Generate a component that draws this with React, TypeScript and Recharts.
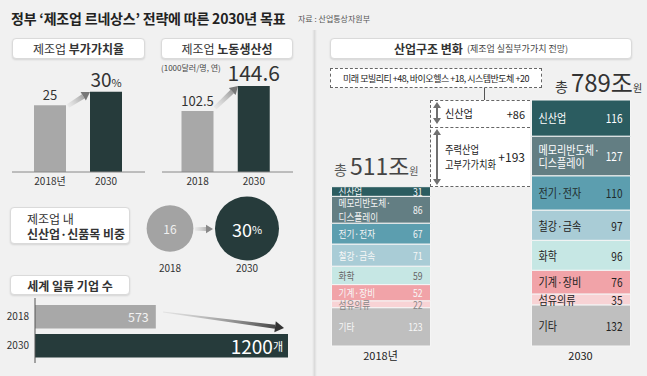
import React from "react";
import { Bar, BarChart, Cell, LabelList, Scatter, ScatterChart, XAxis, YAxis, ZAxis } from "recharts";

const FONT = '"Noto Sans CJK KR", "Noto Sans", sans-serif';
const DARK = "#263b3b";
const GRAY = "#a8a8a8";

// 제조업 부가가치율 (%)
const ratioYears = ["2018년", "2030"];
const ratioValues = [25, 30];
// 제조업 노동생산성 (1000달러/명, 연)
const prodYears = ["2018", "2030"];
const prodValues = [102.5, 144.6];
// 제조업 내 신산업·신품목 비중 (%)
const shareYears = ["2018", "2030"];
const shareValues = [16, 30];
// 세계 일류 기업 수 (개)
const firmYears = ["2018", "2030"];
const firmValues = [573, 1200];
// 산업구조 변화 (조원)
const structYears = ["2018년", "2030"];
const segmentLabels = [
  ["신산업"],
  ["메모리반도체·", "디스플레이"],
  ["전기·전자"],
  ["철강·금속"],
  ["화학"],
  ["기계·장비"],
  ["섬유의류"],
  ["기타"],
];
const values2018 = [31, 86, 67, 71, 59, 52, 22, 123];
const values2030 = [116, 127, 110, 97, 96, 76, 35, 132];

const segColors = ["#2b5c60", "#637e83", "#5c9eaf", "#a9ccd6", "#c6e7e4", "#f1a3a8", "#f8d3d5", "#bfbfbf"];
const text2018 = ["#f4f4f4", "#f4f4f4", "#f4f4f4", "#f7f7f7", "#666", "#f7f7f7", "#888", "#f7f7f7"];
const text2030 = ["#fff", "#fff", "#1f2b2b", "#222", "#222", "#222", "#222", "#222"];

const ratioData = ratioYears.map((year, i) => ({ year, value: ratioValues[i] }));
const prodData = prodYears.map((year, i) => ({ year, value: prodValues[i] }));
const shareData = shareYears.map((year, i) => ({ year, y: 1, value: shareValues[i] }));
const firmData = firmYears.map((year, i) => ({ year, value: firmValues[i] }));

const structData = [
  Object.fromEntries([["year", structYears[0]], ...values2018.map((v, s) => [`s${s}`, v])]),
  { year: "gap" },
  Object.fromEntries([["year", structYears[1]], ...values2030.map((v, s) => [`s${s}`, v])]),
];

const boxStyle: React.CSSProperties = {
  position: "absolute",
  background: "#fff",
  border: "1px solid #dadada",
  borderRadius: 4,
  boxShadow: "0 1px 2px rgba(0,0,0,0.12)",
  boxSizing: "border-box",
  display: "flex",
  alignItems: "center",
  justifyContent: "center",
  fontSize: 12,
  color: "#333",
  whiteSpace: "nowrap",
};

const narrow = (sx: number): React.CSSProperties => ({
  display: "inline-block",
  transform: `scaleX(${sx})`,
  transformOrigin: "left center",
});

function Arrow({ id, x1, y1, x2, y2, w, head, c1, c2, taper = 0.4 }: any) {
  const dx = x2 - x1;
  const dy = y2 - y1;
  const len = Math.hypot(dx, dy);
  const ux = dx / len;
  const uy = dy / len;
  const bx = x2 - ux * head;
  const by = y2 - uy * head;
  const px = -uy;
  const py = ux;
  const s = (w * taper) / 2;
  const e = w / 2;
  const hw = head * 0.62;
  return (
    <g>
      <defs>
        <linearGradient id={id} gradientUnits="userSpaceOnUse" x1={x1} y1={y1} x2={x2} y2={y2}>
          <stop offset="0" stopColor={c1} stopOpacity={0.15} />
          <stop offset="1" stopColor={c2} />
        </linearGradient>
      </defs>
      <polygon
        points={`${x1 + px * s},${y1 + py * s} ${bx + px * e},${by + py * e} ${bx - px * e},${by - py * e} ${x1 - px * s},${y1 - py * s}`}
        fill={`url(#${id})`}
      />
      <polygon points={`${x2},${y2} ${bx + px * hw},${by + py * hw} ${bx - px * hw},${by - py * hw}`} fill={c2} />
    </g>
  );
}

function DoubleArrow({ x, y1, y2 }: { x: number; y1: number; y2: number }) {
  return (
    <g fill="#707070">
      <rect x={x - 1} y={y1 + 5} width={2} height={y2 - y1 - 10} />
      <polygon points={`${x},${y1} ${x - 4},${y1 + 6} ${x + 4},${y1 + 6}`} />
      <polygon points={`${x},${y2} ${x - 4},${y2 - 6} ${x + 4},${y2 - 6}`} />
    </g>
  );
}

const topLabel = (big: boolean, fs: number) => (props: any) => {
  const { x, y, width, value, index } = props;
  const last = index === 1;
  return (
    <text x={x + width / 2} y={y - 5} textAnchor="middle" fontSize={last ? fs : 13} fill="#333" fontFamily={FONT}>
      {String(value)}
      {big && last ? <tspan fontSize={11}>%</tspan> : null}
    </text>
  );
};

const segLabel = (seg: number) => (props: any) => {
  const { x, y, width, height, value } = props;
  if (value == null) return null;
  const is2030 = value === values2030[seg] && value !== values2018[seg];
  const fill = is2030 ? text2030[seg] : text2018[seg];
  const fs = is2030 ? 12 : 10.8;
  const sx = is2030 ? 0.84 : 0.8;
  const lines = segmentLabels[seg];
  const cy = y + height / 2;
  const lh = is2030 ? 12.5 : 13.5;
  return (
    <g fontFamily={FONT} fontSize={fs} fill={fill}>
      <g transform={`translate(${x + 7},${cy}) scale(${sx},1)`}>
        <text x={0} y={0} dominantBaseline="central">
          {lines.map((l, i) => (
            <tspan key={i} x={0} y={(i - (lines.length - 1) / 2) * lh}>
              {l}
            </tspan>
          ))}
        </text>
      </g>
      <g transform={`translate(${x + width - 8},${cy}) scale(${sx},1)`}>
        <text x={0} y={0} textAnchor="end" dominantBaseline="central">
          {value}
        </text>
      </g>
    </g>
  );
};

const shareShape = (props: any) => {
  const { cx, cy, width, size, payload } = props;
  const r = width ? width / 2 : Math.sqrt((size || 0) / Math.PI);
  const last = payload.value === shareValues[1];
  return (
    <g>
      <circle cx={cx} cy={cy} r={r} fill={last ? DARK : "#a3a3a3"} />
      <text
        x={cx}
        y={cy}
        textAnchor="middle"
        dominantBaseline="central"
        fill={last ? "#fff" : "#f0f0f0"}
        fontSize={last ? 18 : 12}
        fontFamily={FONT}
      >
        {payload.value}
        {last ? <tspan fontSize={11}>%</tspan> : null}
      </text>
    </g>
  );
};

const firmLabel = (props: any) => {
  const { x, y, width, height, value, index } = props;
  const last = index === 1;
  return (
    <text
      x={x + width - (last ? 5 : 7)}
      y={y + height / 2}
      textAnchor="end"
      dominantBaseline="central"
      fill={last ? "#fff" : "#f2f2f2"}
      fontSize={last ? 19 : 12.5}
      fontFamily={FONT}
    >
      {value}
      {last ? <tspan fontSize={11}>개</tspan> : null}
    </text>
  );
};

export default function App() {
  const tick10 = { fontSize: 10, fill: "#333", fontFamily: FONT };
  return (
    <div
      style={{
        position: "absolute",
        left: 0,
        top: 0,
        width: 647,
        height: 376,
        background: "#f1f1f1",
        overflow: "hidden",
        fontFamily: FONT,
        color: "#222",
      }}
    >
      {/* title */}
      <div style={{ position: "absolute", left: 11, top: 8, fontSize: 14, fontWeight: 700, letterSpacing: -0.2, whiteSpace: "nowrap" }}>
        정부 ‘제조업 르네상스’ 전략에 따른 2030년 목표
      </div>
      <div style={{ position: "absolute", left: 298, top: 13, fontSize: 8, color: "#555", whiteSpace: "nowrap" }}>
        자료 : 산업통상자원부
      </div>

      {/* divider */}
      <div
        style={{
          position: "absolute",
          left: 312,
          top: 30,
          width: 5,
          height: 346,
          background: "linear-gradient(to right, rgba(0,0,0,0), rgba(0,0,0,0.09), rgba(0,0,0,0))",
        }}
      />

      {/* left headers */}
      <div style={{ ...boxStyle, left: 12, top: 38, width: 133, height: 21 }}>
        제조업&nbsp;<b>부가가치율</b>
      </div>
      <div style={{ ...boxStyle, left: 161, top: 38, width: 132, height: 21 }}>
        제조업&nbsp;<b>노동생산성</b>
      </div>
      <div style={{ position: "absolute", left: 161, top: 62, fontSize: 8, color: "#444", whiteSpace: "nowrap" }}>
        (1000달러/명, 연)
      </div>

      {/* 부가가치율 */}
      <div style={{ position: "absolute", left: 0, top: 0 }}>
        <BarChart width={160} height={200} data={ratioData} margin={{ top: 65, right: 15, bottom: 10, left: 12 }}>
          <XAxis
            dataKey="year"
            padding={{ left: 10, right: 11 }}
            tickLine={false}
            tickSize={4}
            tickMargin={2}
            height={18}
            axisLine={{ stroke: "#888" }}
            tick={tick10}
          />
          <YAxis hide domain={[0, 40]} />
          <Bar dataKey="value" barSize={32} isAnimationActive={false}>
            {ratioData.map((d, i) => (
              <Cell key={d.year} fill={i === 0 ? GRAY : DARK} />
            ))}
            <LabelList dataKey="value" content={topLabel(true, 19)} />
          </Bar>
        </BarChart>
      </div>

      {/* 노동생산성 */}
      <div style={{ position: "absolute", left: 150, top: 0 }}>
        <BarChart width={160} height={200} data={prodData} margin={{ top: 65, right: 17, bottom: 10, left: 12 }}>
          <XAxis
            dataKey="year"
            padding={{ left: 7.5, right: 11 }}
            tickLine={false}
            tickSize={4}
            tickMargin={2}
            height={18}
            axisLine={{ stroke: "#888" }}
            tick={tick10}
          />
          <YAxis hide domain={[0, 180]} />
          <Bar dataKey="value" barSize={32} isAnimationActive={false}>
            {prodData.map((d, i) => (
              <Cell key={d.year} fill={i === 0 ? GRAY : DARK} />
            ))}
            <LabelList dataKey="value" content={topLabel(false, 21)} />
          </Bar>
        </BarChart>
      </div>

      {/* 신산업 비중 */}
      <div style={{ ...boxStyle, left: 10, top: 207, width: 120, height: 37, flexDirection: "column", alignItems: "flex-start", paddingLeft: 16, lineHeight: "15px" }}>
        <span>제조업 내</span>
        <b>신산업·신품목 비중</b>
      </div>
      <div style={{ position: "absolute", left: 100, top: 180 }}>
        <ScatterChart width={200} height={100} margin={{ top: 16, right: 14.5, bottom: 5, left: 31.5 }}>
          <XAxis
            dataKey="year"
            type="category"
            allowDuplicatedCategory={false}
            axisLine={false}
            tickLine={false}
            tickSize={3}
            tickMargin={1}
            height={14}
            tick={tick10}
          />
          <YAxis dataKey="y" hide domain={[0, 2]} />
          <ZAxis dataKey="value" domain={[0, 30]} range={[0, 3217]} />
          <Scatter data={shareData} shape={shareShape} isAnimationActive={false} />
        </ScatterChart>
      </div>

      {/* 세계 일류 기업 수 */}
      <div style={{ ...boxStyle, left: 10, top: 275, width: 120, height: 20, fontWeight: 700 }}>세계 일류 기업 수</div>
      <div style={{ position: "absolute", left: 0, top: 290 }}>
        <BarChart layout="vertical" width={300} height={80} data={firmData} margin={{ top: 8, right: 12, bottom: 7, left: 0 }}>
          <XAxis type="number" hide domain={[0, 1200]} />
          <YAxis
            type="category"
            dataKey="year"
            width={35}
            padding={{ top: 4, bottom: 3 }}
            tickLine={false}
            tickSize={4}
            tickMargin={2}
            axisLine={{ stroke: "#555" }}
            tick={tick10}
          />
          <Bar dataKey="value" barSize={23.5} isAnimationActive={false}>
            {firmData.map((d, i) => (
              <Cell key={d.year} fill={i === 0 ? GRAY : DARK} />
            ))}
            <LabelList dataKey="value" content={firmLabel} />
          </Bar>
        </BarChart>
      </div>

      {/* 산업구조 변화 */}
      <div style={{ ...boxStyle, left: 330, top: 38, width: 302, height: 21 }}>
        <b>산업구조 변화</b>
        <span style={{ fontSize: 9, color: "#444", marginLeft: 4 }}>(제조업 실질부가가치 전망)</span>
      </div>
      <div style={{ ...boxStyle, left: 330, top: 68, width: 212, height: 20, border: "1px dashed #666", borderRadius: 0, boxShadow: "none", fontSize: 9, letterSpacing: -0.5, color: "#222" }}>
        미래 모빌리티 +48, 바이오헬스 +18, 시스템반도체 +20
      </div>
      <div style={{ position: "absolute", left: 484, top: 88, width: 1, height: 12, background: "#555" }} />

      <div style={{ position: "absolute", left: 310, top: 90 }}>
        <BarChart width={337} height={286} data={structData} margin={{ top: 10, right: 16.5, bottom: 10, left: 20.5 }}>
          <XAxis
            dataKey="year"
            axisLine={false}
            tickLine={false}
            tickSize={3}
            tickMargin={3}
            height={20}
            tickFormatter={(v: string) => (v === "gap" ? "" : v)}
            tick={{ fontSize: 11, fill: "#222", fontFamily: FONT }}
          />
          <YAxis hide domain={[0, 789]} />
          {segmentLabels
            .map((_, s) => s)
            .reverse()
            .map((s) => (
              <Bar
                key={s}
                dataKey={`s${s}`}
                stackId="a"
                barSize={99}
                fill={segColors[s]}
                stroke="#f5f5f5"
                strokeWidth={1}
                isAnimationActive={false}
              >
                <LabelList dataKey={`s${s}`} content={segLabel(s)} />
              </Bar>
            ))}
        </BarChart>
      </div>

      {/* middle annotation */}
      <div style={{ position: "absolute", left: 430, top: 100, width: 100, height: 87, border: "1px dashed #666", borderRight: "none", background: "#fff", boxSizing: "border-box" }} />
      <div style={{ position: "absolute", left: 430, top: 127, width: 100, height: 0, borderTop: "1px dashed #666" }} />
      <div style={{ position: "absolute", left: 445, top: 105, fontSize: 11.5, whiteSpace: "nowrap" }}>
        <span style={narrow(0.88)}>신산업</span>
      </div>
      <div style={{ position: "absolute", left: 498, top: 106, width: 27, textAlign: "right", fontSize: 11 }}>+86</div>
      <div style={{ position: "absolute", left: 445, top: 142, fontSize: 11, lineHeight: "15px", whiteSpace: "nowrap" }}>
        <span style={narrow(0.84)}>주력산업</span>
        <br />
        <span style={narrow(0.84)}>고부가가치화</span>
      </div>
      <div style={{ position: "absolute", left: 495, top: 148, width: 30, textAlign: "right", fontSize: 12 }}>+193</div>

      <div style={{ position: "absolute", left: 334, top: 154, display: "flex", alignItems: "baseline", color: "#555", whiteSpace: "nowrap", lineHeight: 1 }}>
        <span style={{ fontSize: 14, marginRight: 3 }}>총</span>
        <span style={{ fontSize: 23, color: "#444" }}>511조</span>
        <span style={{ fontSize: 10 }}>원</span>
      </div>
      <div style={{ position: "absolute", left: 555, top: 70, display: "flex", alignItems: "baseline", color: "#333", whiteSpace: "nowrap", lineHeight: 1 }}>
        <span style={{ fontSize: 14, marginRight: 3 }}>총</span>
        <span style={{ fontSize: 24 }}>789조</span>
        <span style={{ fontSize: 10 }}>원</span>
      </div>

      {/* arrows */}
      <svg width={647} height={376} style={{ position: "absolute", left: 0, top: 0, pointerEvents: "none" }}>
        <Arrow id="ga" x1={68} y1={106} x2={90} y2={92} w={5} head={8} c1="#bbb" c2="#777" taper={0.8} />
        <Arrow id="gb" x1={215} y1={108} x2={238} y2={86} w={5} head={8} c1="#bbb" c2="#777" taper={0.8} />
        <Arrow id="gc" x1={195} y1={229} x2={213} y2={229} w={4} head={7} c1="#bbb" c2="#888" taper={0.9} />
        <Arrow id="gd" x1={163} y1={312} x2={284} y2={328} w={4} head={9} c1="#999" c2="#333" taper={0.2} />
        <DoubleArrow x={437} y1={102} y2={124} />
        <DoubleArrow x={437} y1={129} y2={185} />
      </svg>
    </div>
  );
}
